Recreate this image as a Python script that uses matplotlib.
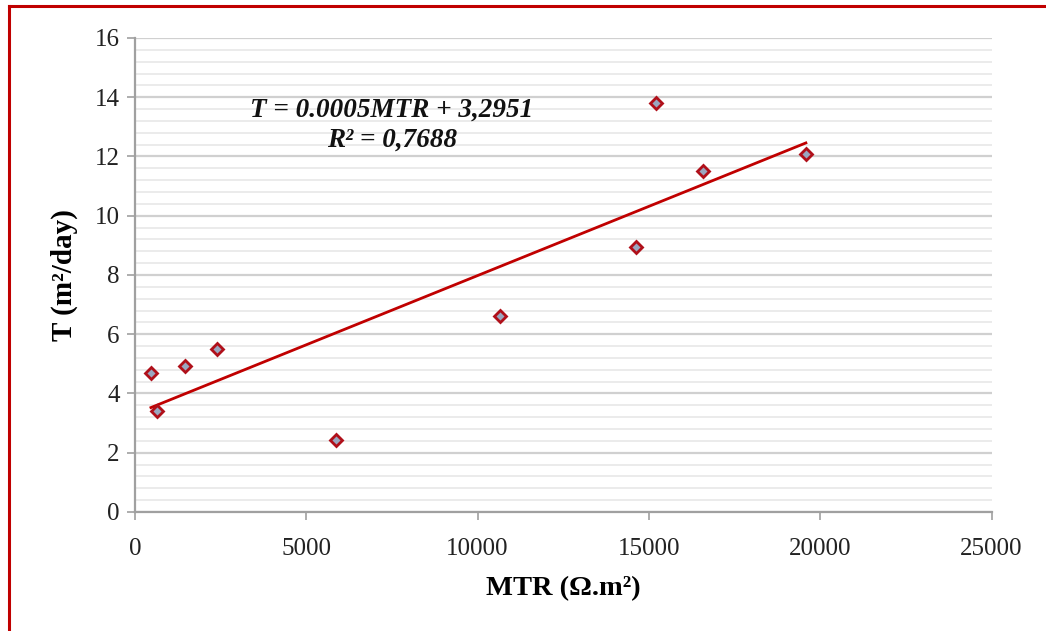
"""Scatter of transmissivity T against MTR with linear trend line."""

import numpy as np
import matplotlib

matplotlib.use("Agg")
import matplotlib.pyplot as plt
from matplotlib.lines import Line2D
from matplotlib.ticker import MultipleLocator

plt.rcParams["font.family"] = ["Liberation Serif", "DejaVu Serif"]

# values
mtr = [467, 642, 1459, 2392, 5863, 10648, 14615, 15198, 16569, 19580]
t_vals = [4.69, 3.41, 4.93, 5.50, 2.43, 6.62, 8.95, 13.81, 11.51, 12.08]
eq_text = "T = 0.0005MTR + 3,2951"
r2_text = "R² = 0,7688"

x = np.array(mtr, dtype=float)
y = np.array(t_vals, dtype=float)
slope, intercept = np.polyfit(x, y, 1)
xfit = np.array([x.min(), x.max()])

fig = plt.figure(figsize=(10.46, 6.31), dpi=100)
ax = fig.add_axes([0.129, 0.1886, 0.819, 0.7512])

ax.plot(xfit, slope * xfit + intercept, color="#c00000", lw=2, zorder=3)
ax.plot(x, y, ls="none", marker="D", ms=6.5, mfc="#9aa7c0", mec="#b0101a",
        mew=2, zorder=4)

ax.set_xlim(0, 25000)
ax.set_ylim(0, 16)
ax.xaxis.set_major_locator(MultipleLocator(5000))
ax.yaxis.set_major_locator(MultipleLocator(2))
ax.yaxis.set_minor_locator(MultipleLocator(0.4))
ax.grid(True, axis="y", which="major", color="#d0d0d0", lw=1.6, zorder=0)
ax.grid(True, axis="y", which="minor", color="#e8e8e8", lw=1.2, zorder=0)
ax.tick_params(axis="y", which="minor", length=0)
ax.tick_params(which="major", direction="out", length=6, color="#a0a0a0",
               width=1.2, labelsize=18, labelcolor="#222222")
ax.tick_params(axis="x", pad=13)
ax.tick_params(axis="y", pad=5)
for side in ("top", "right"):
    ax.spines[side].set_visible(False)
for side in ("left", "bottom"):
    ax.spines[side].set_color("#a0a0a0")
    ax.spines[side].set_linewidth(1.6)

ax.set_xlabel("MTR (Ω.m²)", fontsize=20.5, fontweight="bold", labelpad=11)
ax.set_ylabel("T (m²/day)", fontsize=21, fontweight="bold", labelpad=12)

ax.text(7500, 13.57, eq_text, ha="center", va="center", fontsize=19.5,
        fontweight="bold", style="italic", color="#111111")
ax.text(7500, 12.55, r2_text, ha="center", va="center", fontsize=19.5,
        fontweight="bold", style="italic", color="#111111")

# red frame round the picture (top and left edges only visible)
fx0, fy1 = 9 / 1046, 1 - 6 / 631
fig.add_artist(Line2D([fx0, 1.0], [fy1, fy1], transform=fig.transFigure,
                      color="#c00000", lw=2.2))
fig.add_artist(Line2D([fx0, fx0], [0.0, fy1], transform=fig.transFigure,
                      color="#c00000", lw=2.2))

fig.savefig("out.png", dpi=100, facecolor="white")
